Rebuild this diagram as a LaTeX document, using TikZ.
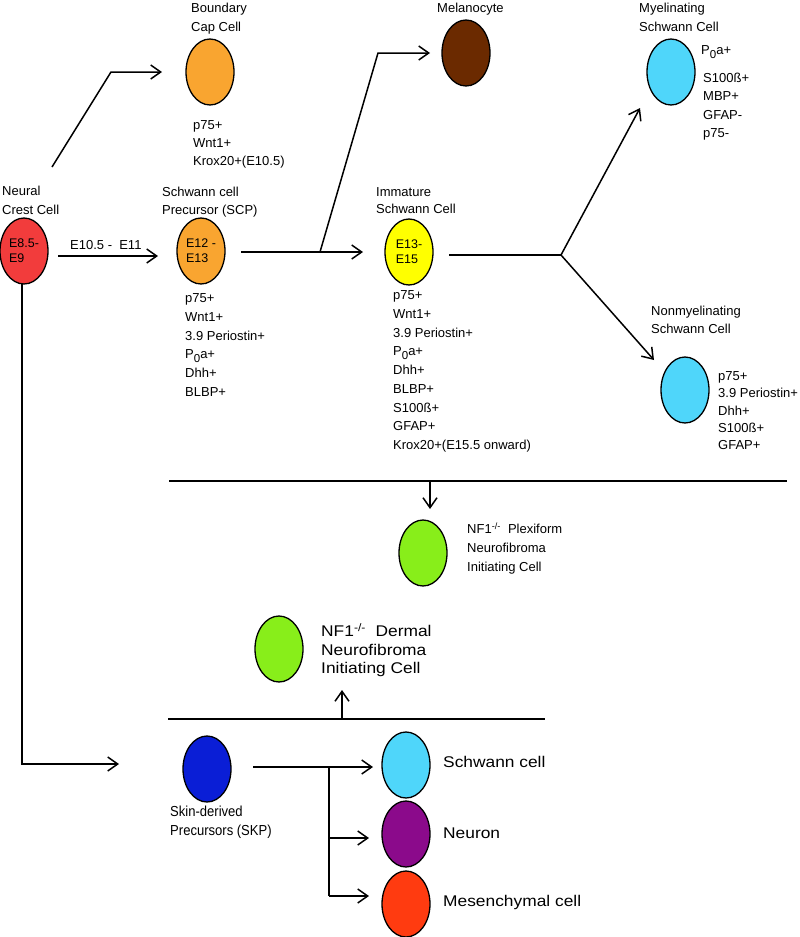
\documentclass[tikz,border=0pt]{standalone}
\usepackage{fontspec}
\setmainfont{Liberation Sans}
\newfontfamily\widefont[FakeStretch=1.12]{Liberation Sans}
\newfontfamily\narrowfont[FakeStretch=0.9]{Liberation Sans}
\usetikzlibrary{arrows.meta,shapes.geometric}
\definecolor{ncred}{HTML}{F23C3C}
\definecolor{cellorange}{HTML}{F9A530}
\definecolor{melbrown}{HTML}{6B2A00}
\definecolor{immyellow}{HTML}{FFFF00}
\definecolor{cellblue}{HTML}{4FD6FA}
\definecolor{nfgreen}{HTML}{88EE1A}
\definecolor{skpblue}{HTML}{0A1ED6}
\definecolor{neupurple}{HTML}{8B0A8B}
\definecolor{mesred}{HTML}{FF3B10}
\newcommand{\Pzero}{P\raisebox{-3.5pt}{\fontsize{11.5}{11.5}\selectfont 0}a+}
\begin{document}
\begin{tikzpicture}[x=1pt,y=-1pt,
  cell/.style={ellipse,draw=black,line width=1.3pt,minimum width=48pt,minimum height=66pt,inner sep=0pt,align=left,font=\fontsize{12.5}{15}\selectfont},
  lbl/.style={anchor=base west,inner sep=0pt,align=left,font=\fontsize{13}{18.7}\selectfont},
  biglbl/.style={anchor=base west,inner sep=0pt,align=left,font=\widefont\fontsize{15.5}{18.5}\selectfont},
  conn/.style={line width=1.5pt},
  arr/.style={conn,-{Straight Barb[length=10pt,width=14pt,line width=1.5pt]}}]
\useasboundingbox (0,0) rectangle (800,937);

% cells
\node[cell,fill=ncred] (nc) at (24,251) {E8.5-\\E9};
\node[cell,fill=cellorange] (bc) at (210,72) {};
\node[cell,fill=cellorange] (scp) at (201,251) {E12 -\\E13};
\node[cell,fill=melbrown] (mel) at (466,53) {};
\node[cell,fill=immyellow] (imm) at (409,252) {E13-\\E15};
\node[cell,fill=cellblue] (mye) at (671,72) {};
\node[cell,fill=cellblue] (non) at (685,390) {};
\node[cell,fill=nfgreen] (plex) at (423,553) {};
\node[cell,fill=nfgreen] (derm) at (279,649) {};
\node[cell,fill=skpblue] (skp) at (207,769) {};
\node[cell,fill=cellblue] (sch) at (406,765) {};
\node[cell,fill=neupurple] (neu) at (406,834) {};
\node[cell,fill=mesred] (mes) at (406,904) {};

% labels (anchor = baseline of the last line)
\node[lbl,font=\fontsize{13}{19}\selectfont] (ncT) at (2,214.5) {Neural\\Crest Cell};
\node[lbl] (bcT) at (191,31.3) {Boundary\\Cap Cell};
\node[lbl,font=\fontsize{13}{18}\selectfont] (bcM) at (193,165.5) {p75+\\Wnt1+\\Krox20+(E10.5)};
\node[lbl,font=\fontsize{13}{18.3}\selectfont] (scpT) at (162,214.8) {Schwann cell\\Precursor (SCP)};
\node[lbl] (scpM) at (185,396.3) {p75+\\Wnt1+\\3.9 Periostin+\\\Pzero\\Dhh+\\BLBP+};
\node[lbl] (melT) at (437,12.5) {Melanocyte};
\node[lbl,font=\fontsize{13}{17.5}\selectfont] (immT) at (376,213.8) {Immature\\Schwann Cell};
\node[lbl,font=\fontsize{13}{18.75}\selectfont] (immM) at (393,449.5) {p75+\\Wnt1+\\3.9 Periostin+\\\Pzero\\Dhh+\\BLBP+\\S100ß+\\GFAP+\\Krox20+(E15.5 onward)};
\node[lbl] (myeT) at (639,31.3) {Myelinating\\Schwann Cell};
\node[lbl] (myeP) at (701,54.5) {\Pzero};
\node[lbl,font=\fontsize{13}{18.3}\selectfont] (myeM) at (703,137.4) {S100ß+\\MBP+\\GFAP-\\p75-};
\node[lbl,font=\fontsize{13}{18}\selectfont] (nonT) at (651,333.5) {Nonmyelinating\\Schwann Cell};
\node[lbl,font=\fontsize{13}{17.3}\selectfont] (nonM) at (718,449.7) {p75+\\3.9 Periostin+\\Dhh+\\S100ß+\\GFAP+};
\node[lbl,font=\fontsize{13}{19}\selectfont] (plexT) at (467,571.5) {NF1\textsuperscript{-/-}\ \ Plexiform\\Neurofibroma\\Initiating Cell};
\node[biglbl] (dermT) at (321,673.5) {NF1\textsuperscript{-/-}\ \ Dermal\\Neurofibroma\\Initiating Cell};
\node[lbl,font=\narrowfont\fontsize{14.5}{19}\selectfont] (skpT) at (170,835) {Skin-derived\\Precursors (SKP)};
\node[biglbl] (schT) at (443,767) {Schwann cell};
\node[biglbl] (neuT) at (443,838) {Neuron};
\node[biglbl] (mesT) at (443,906) {Mesenchymal cell};
\node[lbl] (ageT) at (70,249.5) {E10.5 -\ \ E11};

% connector points
\coordinate (ncA) at (52,167);
\coordinate (ncB) at (111,72);
\coordinate (bcIn) at (162,72);
\coordinate (ncOut) at (58,256);
\coordinate (scpIn) at (158,256);
\coordinate (scpOut) at (241,252);
\coordinate (scpJ) at (320,252);
\coordinate (immIn) at (363,252);
\coordinate (melB) at (378,53);
\coordinate (melIn) at (430,53);
\coordinate (immOut) at (449,255);
\coordinate (immJ) at (561,255);
\coordinate (myeIn) at (640,108);
\coordinate (nonIn) at (654,360);
\coordinate (plexL) at (169,481);
\coordinate (plexR) at (787,481);
\coordinate (plexJ) at (430,481);
\coordinate (plexIn) at (430,509);
\coordinate (ncBot) at (22,284);
\coordinate (skpIn) at (119,764);
\coordinate (dermL) at (168,719);
\coordinate (dermR) at (545,719);
\coordinate (dermJ) at (342,719);
\coordinate (dermIn) at (342,690);
\coordinate (skpOut) at (253,767);
\coordinate (schIn) at (373,767);
\coordinate (skpJ) at (329,767);
\coordinate (skpJb) at (329,838);
\coordinate (neuIn) at (369,838);
\coordinate (skpJc) at (329,896);
\coordinate (mesIn) at (369,896);

% connectors
\draw[arr] (ncA) -- (ncB) -- (bcIn);
\draw[arr] (ncOut) -- (scpIn);
\draw[arr] (scpOut) -- (immIn);
\draw[arr] (scpJ) -- (melB) -- (melIn);
\draw[conn] (immOut) -- (immJ);
\draw[arr] (immJ) -- (myeIn);
\draw[arr] (immJ) -- (nonIn);
\draw[conn] (plexL) -- (plexR);
\draw[arr] (plexJ) -- (plexIn);
\draw[arr] (ncBot) |- (skpIn);
\draw[conn] (dermL) -- (dermR);
\draw[arr] (dermJ) -- (dermIn);
\draw[arr] (skpOut) -- (schIn);
\draw[conn] (skpJ) -- (skpJc);
\draw[arr] (skpJb) -- (neuIn);
\draw[arr] (skpJc) -- (mesIn);
\end{tikzpicture}
\end{document}
